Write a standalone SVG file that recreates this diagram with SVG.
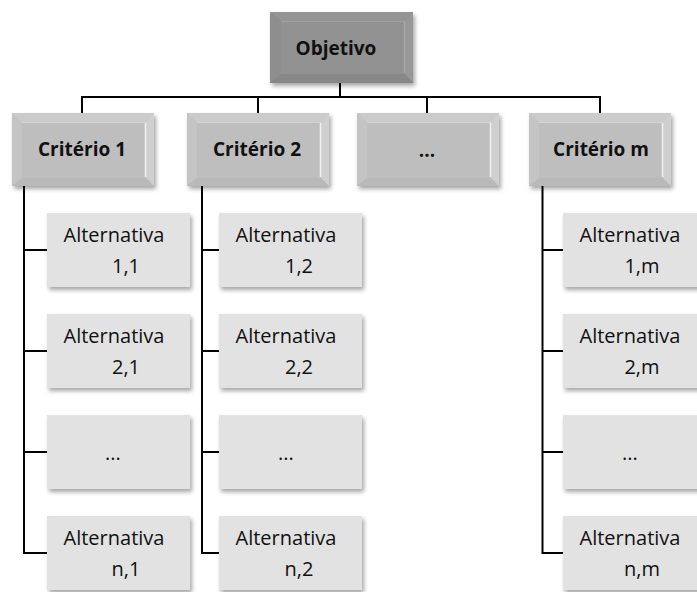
<svg xmlns="http://www.w3.org/2000/svg" xmlns:xlink="http://www.w3.org/1999/xlink" width="697" height="592" viewBox="0 0 697 592">
<style>
.lbl{font-family:"Open Sans","Noto Sans","DejaVu Sans",sans-serif;font-size:19px;font-weight:bold;fill:#111;text-anchor:middle}
.alt{font-family:"Open Sans","Noto Sans","DejaVu Sans",sans-serif;font-size:20px;fill:#111;text-anchor:middle}
.con{fill:none;stroke:#000;stroke-width:2}
.abox{fill:#e2e2e2}
</style>
<defs>
<filter id="sh" x="-10%" y="-10%" width="125%" height="130%">
<feDropShadow dx="2" dy="3" stdDeviation="2" flood-color="#000" flood-opacity="0.35"/>
</filter>
<g id="bevC">
<rect x="0" y="0" width="142" height="73" fill="#c6c6c6"/>
<polygon points="0,0 142,0 134,9 10,9" fill="#cbcbcb"/>
<polygon points="0,0 10,9 10,65 0,73" fill="#c4c4c4"/>
<polygon points="142,0 142,73 134,65 134,9" fill="#cfcfcf"/>
<polygon points="0,73 142,73 134,65 10,65" fill="#b9b9b9"/>
<rect x="10" y="9" width="124" height="56" fill="#bebebe"/>
<line x1="10" y1="9.5" x2="134" y2="9.5" stroke="#d6d6d6" stroke-width="1"/>
<line x1="133.5" y1="10" x2="133.5" y2="64" stroke="#f0f0f0" stroke-width="1.5"/>
</g>
<g id="bevO">
<rect x="0" y="0" width="143" height="71" fill="#8f8f8f"/>
<polygon points="0,0 143,0 135,9 11,9" fill="#959595"/>
<polygon points="0,0 11,9 11,62 0,71" fill="#8e8e8e"/>
<polygon points="143,0 143,71 135,62 135,9" fill="#989898"/>
<polygon points="0,71 143,71 135,62 11,62" fill="#878787"/>
<rect x="11" y="9" width="124" height="53" fill="#929292"/>
<line x1="11" y1="9.5" x2="135" y2="9.5" stroke="#a0a0a0" stroke-width="1"/>
<line x1="134.5" y1="10" x2="134.5" y2="61" stroke="#a6a6a6" stroke-width="1.5"/>
</g>
</defs>
<rect width="697" height="592" fill="#fff"/>

<g id="connectors">
<path class="con" d="M340,83 V97"/>
<path class="con" d="M82,113 V97 H600 V113"/>
<path class="con" d="M258,97 V113"/>
<path class="con" d="M427,97 V113"/>
<path class="con" d="M24,186 V553 H47 M24,250 H47 M24,351 H47 M24,452 H47"/>
<path class="con" d="M202,186 V553 H219 M202,250 H219 M202,351 H219 M202,452 H219"/>
<path class="con" d="M542.5,186 V553 H563 M542.5,250 H563 M542.5,351 H563 M542.5,452 H563"/>
</g>

<g id="objetivo"><use xlink:href="#bevO" x="270" y="12" filter="url(#sh)"/><text class="lbl" x="336" y="55">Objetivo</text></g>

<g id="criterio1"><use xlink:href="#bevC" x="12" y="113" filter="url(#sh)"/><text class="lbl" x="82" y="156">Critério 1</text></g>
<g id="criterio2"><use xlink:href="#bevC" x="187" y="113" filter="url(#sh)"/><text class="lbl" x="257" y="156">Critério 2</text></g>
<g id="criterio-dots"><use xlink:href="#bevC" x="357" y="113" filter="url(#sh)"/><text class="lbl" x="427" y="157">...</text></g>
<g id="criteriom"><use xlink:href="#bevC" x="529" y="113" filter="url(#sh)"/><text class="lbl" x="601" y="156">Critério m</text></g>

<g id="alt11"><rect class="abox" x="47" y="213" width="143" height="74" filter="url(#sh)"/><text class="alt" x="114" y="242">Alternativa</text><text class="alt" x="126" y="273">1,1</text></g>
<g id="alt21"><rect class="abox" x="47" y="314" width="143" height="74" filter="url(#sh)"/><text class="alt" x="114" y="343">Alternativa</text><text class="alt" x="126" y="374">2,1</text></g>
<g id="alt-dots1"><rect class="abox" x="47" y="415" width="143" height="74" filter="url(#sh)"/><text class="alt" x="113" y="460">...</text></g>
<g id="altn1"><rect class="abox" x="47" y="516" width="143" height="74" filter="url(#sh)"/><text class="alt" x="114" y="545">Alternativa</text><text class="alt" x="126" y="576">n,1</text></g>

<g id="alt12"><rect class="abox" x="219" y="213" width="143" height="74" filter="url(#sh)"/><text class="alt" x="286" y="242">Alternativa</text><text class="alt" x="299" y="273">1,2</text></g>
<g id="alt22"><rect class="abox" x="219" y="314" width="143" height="74" filter="url(#sh)"/><text class="alt" x="286" y="343">Alternativa</text><text class="alt" x="299" y="374">2,2</text></g>
<g id="alt-dots2"><rect class="abox" x="219" y="415" width="143" height="74" filter="url(#sh)"/><text class="alt" x="286" y="460">...</text></g>
<g id="altn2"><rect class="abox" x="219" y="516" width="143" height="74" filter="url(#sh)"/><text class="alt" x="286" y="545">Alternativa</text><text class="alt" x="299" y="576">n,2</text></g>

<g id="alt1m"><rect class="abox" x="563" y="213" width="143" height="74" filter="url(#sh)"/><text class="alt" x="630" y="242">Alternativa</text><text class="alt" x="642" y="273">1,m</text></g>
<g id="alt2m"><rect class="abox" x="563" y="314" width="143" height="74" filter="url(#sh)"/><text class="alt" x="630" y="343">Alternativa</text><text class="alt" x="642" y="374">2,m</text></g>
<g id="alt-dotsm"><rect class="abox" x="563" y="415" width="143" height="74" filter="url(#sh)"/><text class="alt" x="630" y="460">...</text></g>
<g id="altnm"><rect class="abox" x="563" y="516" width="143" height="74" filter="url(#sh)"/><text class="alt" x="630" y="545">Alternativa</text><text class="alt" x="642" y="576">n,m</text></g>
</svg>
